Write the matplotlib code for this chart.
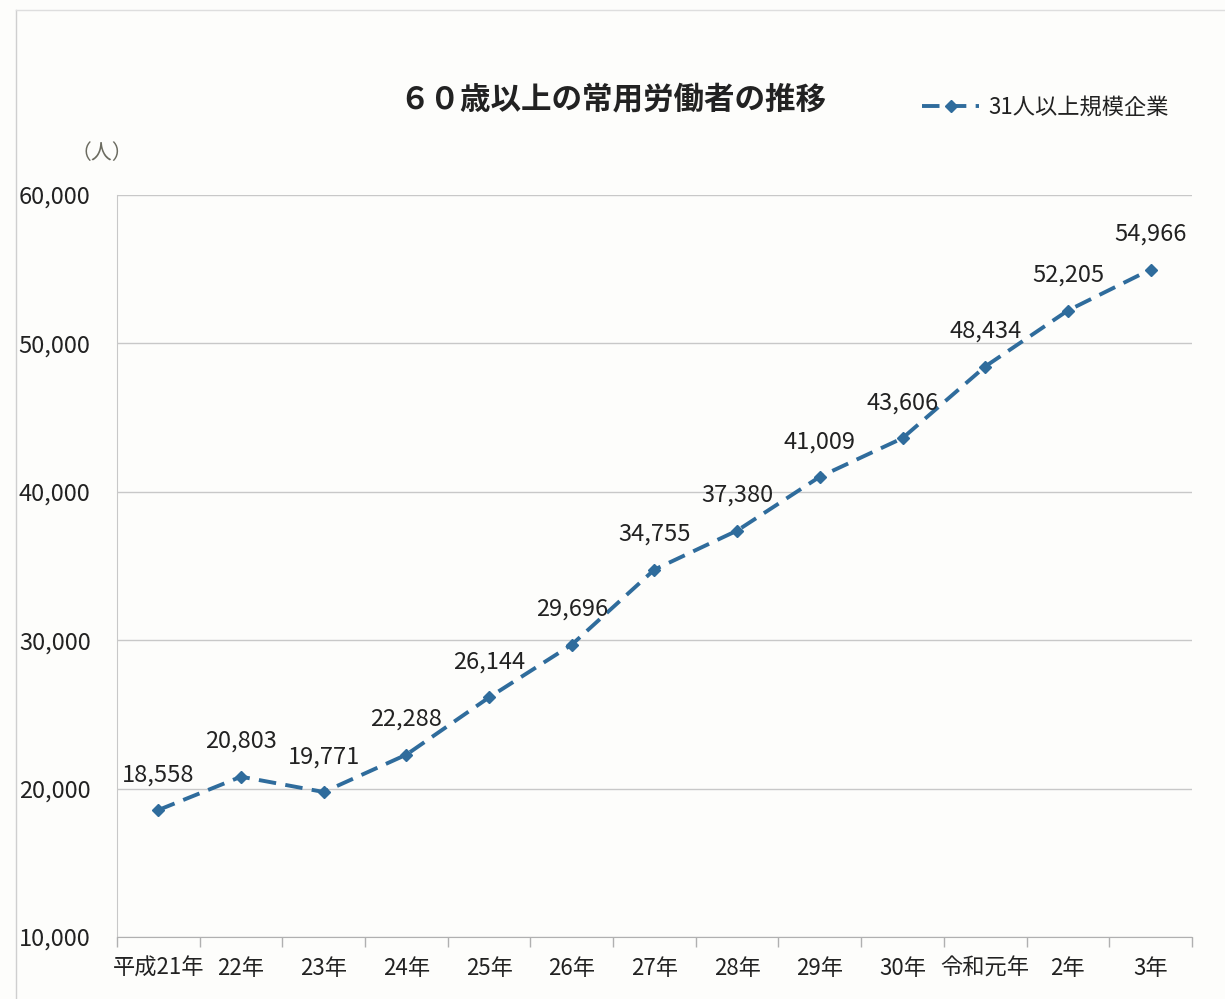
import matplotlib.pyplot as plt
from matplotlib.ticker import FuncFormatter, FixedLocator
import numpy as np

# データ
years = ['平成21年', '22年', '23年', '24年', '25年', '26年', '27年',
         '28年', '29年', '30年', '令和元年', '2年', '3年']
workers = [18558, 20803, 19771, 22288, 26144, 29696, 34755,
           37380, 41009, 43606, 48434, 52205, 54966]
y_ticks = [10000, 20000, 30000, 40000, 50000, 60000]

FONT = ['Noto Sans CJK JP', 'DejaVu Sans']
plt.rcParams['font.family'] = FONT

fig = plt.figure(figsize=(12.25, 9.99), dpi=100, facecolor='#fdfdfb')
ax = fig.add_axes([0.0955, 0.062, 0.8775, 0.743])
ax.set_facecolor('#fdfdfb')

x = np.arange(len(years))
line_color = '#2f6c9c'
ax.plot(x, workers, color=line_color, linewidth=2.8, linestyle=(0, (4.5, 2.4)),
        marker='D', markersize=6.5, markerfacecolor=line_color,
        markeredgecolor=line_color, label='31人以上規模企業', zorder=3)

# データラベル
for xi, v in zip(x, workers):
    ax.annotate(f'{v:,}', (xi, v), xytext=(0, 17), textcoords='offset points',
                ha='center', va='bottom', fontsize=17, color='#222222')

ax.set_xlim(-0.5, len(years) - 0.5)
ax.set_ylim(10000, 60000)
ax.yaxis.set_major_locator(FixedLocator(y_ticks))
ax.yaxis.set_major_formatter(FuncFormatter(lambda v, p: f'{int(v):,}'))
ax.grid(axis='y', color='#c8c8c8', linewidth=1.0)
ax.set_axisbelow(True)

# x軸: 目盛は区切り位置、ラベルは中央
ax.set_xticks(np.arange(-0.5, len(years)), minor=False)
ax.set_xticklabels([])
ax.set_xticks(x, minor=True)
ax.set_xticklabels(years, minor=True, fontsize=16, color='#222222')
ax.tick_params(axis='x', which='major', length=7, color='#b0b0b0', width=1)
ax.tick_params(axis='x', which='minor', length=0, pad=14)
ax.tick_params(axis='y', length=0, labelsize=17, pad=19, labelcolor='#222222')

for s in ['top', 'right']:
    ax.spines[s].set_visible(False)
ax.spines['left'].set_color('#c8c8c8')
ax.spines['bottom'].set_color('#b0b0b0')

# タイトル・凡例・単位
fig.text(0.5, 0.9, '６０歳以上の常用労働者の推移', ha='center', va='center',
         fontsize=22, fontweight='bold', color='#222222')
leg = ax.legend(loc='upper left', bbox_to_anchor=(0.73, 1.16), frameon=False,
                fontsize=16, handlelength=2.6, handletextpad=0.4)
for t in leg.get_texts():
    t.set_color('#222222')
fig.text(0.083, 0.847, '（人）', ha='center', va='center', fontsize=15,
         color='#6b6b60')

# 外枠
fig.add_artist(plt.Line2D([0.013, 0.013], [0, 0.99], color='#cfcfcf', linewidth=1))
fig.add_artist(plt.Line2D([0.013, 1], [0.99, 0.99], color='#dedede', linewidth=1))

fig.savefig('out.png', dpi=100, facecolor=fig.get_facecolor())
